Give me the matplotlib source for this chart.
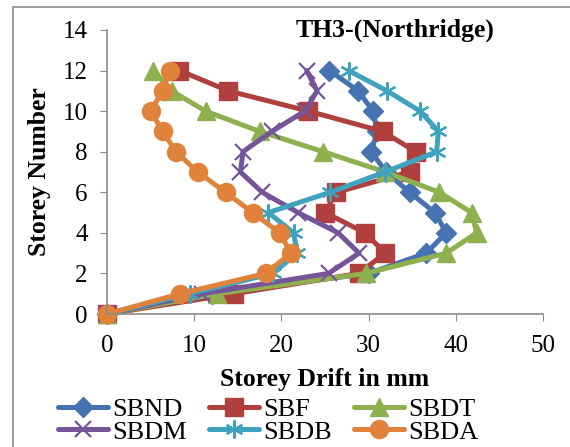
import matplotlib.pyplot as plt
from matplotlib.patches import Rectangle

plt.rcParams['font.family'] = ['Liberation Serif', 'DejaVu Serif']

storeys = [0, 1, 2, 3, 4, 5, 6, 7, 8, 9, 10, 11, 12]
sbnd = [0, 12.0, 30.0, 36.6, 38.9, 37.6, 34.7, 32.0, 30.3, 31.0, 30.5, 28.8, 25.5]
sbf = [0, 14.6, 28.9, 31.9, 29.6, 25.0, 26.3, 34.7, 35.4, 31.6, 23.1, 13.9, 8.3]
sbdt = [0, 12.6, 29.7, 38.9, 42.4, 41.8, 38.1, 31.9, 24.8, 17.5, 11.3, 7.4, 5.3]
sbdm = [0, 10.9, 25.4, 28.9, 26.5, 21.9, 17.8, 15.3, 15.6, 18.9, 22.7, 24.1, 22.9]
sbdb = [0, 9.5, 19.0, 21.8, 21.4, 18.5, 25.6, 31.9, 37.8, 38.0, 35.9, 32.1, 27.7]
sbda = [0, 8.4, 18.2, 21.1, 19.8, 16.7, 13.6, 10.4, 7.9, 6.4, 5.0, 6.4, 7.2]

series = [
    ('SBND', sbnd, '#4572B0', 'D', 10.5),
    ('SBF', sbf, '#B0403E', 's', 12.5),
    ('SBDT', sbdt, '#8FB04E', '^', 13),
    ('SBDM', sbdm, '#74559A', 'x', 12),
    ('SBDB', sbdb, '#3FA3BE', '*', 13),
    ('SBDA', sbda, '#E0823A', 'o', 13),
]

fig = plt.figure(figsize=(5.7, 4.47), dpi=100)
ax = fig.add_axes([0.1877, 0.2975, 0.765, 0.6355])

handles = {}
for name, vals, col, mk, ms in series:
    if mk in ('x', '*'):
        ln, = ax.plot(vals, storeys, color=col, lw=3.6, marker='x' if mk == 'x' else (6, 2, 0),
                      ms=ms, mew=1.6, label=name, solid_capstyle='round', clip_on=False)
    else:
        ln, = ax.plot(vals, storeys, color=col, lw=3.6, marker=mk, ms=ms, mec=col,
                      label=name, solid_capstyle='round', clip_on=False)
    handles[name] = ln

ax.set_xlim(0, 50)
ax.set_ylim(0, 14)
ax.set_xticks([0, 10, 20, 30, 40, 50])
ax.set_yticks([0, 2, 4, 6, 8, 10, 12, 14])
for s in ['top', 'right']:
    ax.spines[s].set_visible(False)
for s in ['left', 'bottom']:
    ax.spines[s].set_color('#8c8c8c')
    ax.spines[s].set_linewidth(1.2)
ax.tick_params(direction='out', length=5, color='#8c8c8c', labelsize=18)
ax.tick_params(axis='x', pad=10)
ax.tick_params(axis='y', pad=9)

ax.set_xlabel('Storey Drift in mm', fontsize=18.5, fontweight='bold', labelpad=8)
ax.set_ylabel('Storey Number', fontsize=18.5, fontweight='bold', labelpad=8)
ax.text(0.66, 1.0, 'TH3-(Northridge)', transform=ax.transAxes, fontsize=18.5,
        fontweight='bold', ha='center', va='center')

# legend is filled column by column, so order entries to read row by row
order = ['SBND', 'SBDM', 'SBF', 'SBDB', 'SBDT', 'SBDA']
fig.legend([handles[n] for n in order], order, loc='upper left',
           bbox_to_anchor=(58 / 570, 1 - 398 / 447), ncol=3, frameon=False,
           fontsize=19, handlelength=1.9, handletextpad=0.15, columnspacing=0.85,
           labelspacing=-0.05, borderpad=0, borderaxespad=0)

fig.patches.append(Rectangle((13 / 570, -0.01), 1.1, 1 - 7 / 447 + 0.01,
                             transform=fig.transFigure, fill=False,
                             edgecolor='#8c8c8c', lw=1.2))

plt.savefig('out.png', dpi=100)
plt.close()
